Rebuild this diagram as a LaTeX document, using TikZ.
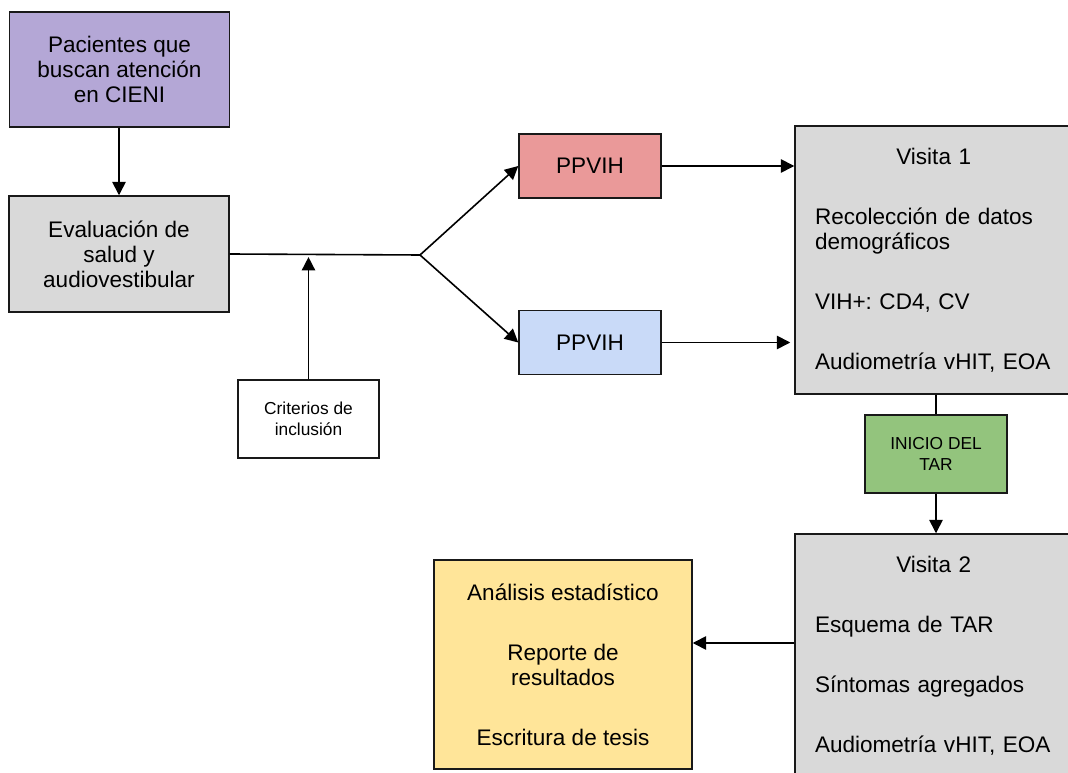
\documentclass[tikz,border=0pt]{standalone}
\usepackage{fontspec}
\setmainfont{Liberation Sans}
\frenchspacing
\usetikzlibrary{arrows.meta,positioning}
\definecolor{lila}{HTML}{B4A7D6}
\definecolor{gris}{HTML}{D9D9D9}
\definecolor{rosa}{HTML}{EA9999}
\definecolor{celeste}{HTML}{C9DAF8}
\definecolor{verde}{HTML}{93C47D}
\definecolor{amarillo}{HTML}{FFE599}
\tikzset{
  caja/.style={draw=black!90,line width=1.1pt,inner sep=0pt,align=center,
    font=\fontsize{16.9}{18.75}\selectfont},
  chica/.style={caja,fill=white,font=\fontsize{13}{16}\selectfont},
  visita/.style={caja,fill=gris,align=left,inner xsep=15pt,text width=187.5pt},
  flecha/.style={line width=1.2pt,-{Triangle[length=10pt,width=10pt]}},
  linea/.style={line width=1.2pt},
}

\begin{document}
\begin{tikzpicture}[x=0.75pt,y=-0.75pt]
  \useasboundingbox (0,0) rectangle (1068,773);
  \clip (0,0) rectangle (1068,773);
  % columna izquierda
  \node[caja,fill=lila,minimum width=165pt,minimum height=86.25pt] (pac) at (119.5,69.5)
    {Pacientes que\\buscan atención\\en CIENI};
  \node[caja,fill=gris,minimum width=165pt,minimum height=87pt] (eval) at (119,254)
    {Evaluación de\\salud y\\audiovestibular};
  \node[chica,minimum width=105.75pt,minimum height=58.5pt] (crit) at (308.5,419)
    {Criterios de\\inclusión};
  \coordinate (rama) at (420,255);
  % grupos
  \node[caja,fill=rosa,minimum width=106.5pt,minimum height=48pt] (rojo) at (590,166) {PPVIH};
  \node[caja,fill=celeste,minimum width=106.5pt,minimum height=48pt] (azul) at (590,342.5) {PPVIH};
  % visitas
  \node[visita,minimum height=201pt] (v1) at (940,260)
    {\hspace*{61pt}Visita 1\\[26.25pt]
     Recolección de datos\\demográficos\\[26.25pt]
     VIH+: CD4, CV\\[26.25pt]
     Audiometría vHIT, EOA};
  \node[chica,fill=verde,minimum width=106.5pt,minimum height=58.5pt] (inicio) at (936,454)
    {INICIO DEL\\TAR};
  \node[visita,minimum height=183pt] (v2) at (940,656)
    {\hspace*{61pt}Visita 2\\[26.25pt]
     Esquema de TAR\\[26.25pt]
     Síntomas agregados\\[26.25pt]
     Audiometría vHIT, EOA};
  \node[caja,fill=amarillo,minimum width=193.5pt,minimum height=156.75pt] (final) at (563,664.5)
    {Análisis estadístico\\[26.25pt]
     Reporte de\\resultados\\[26.25pt]
     Escritura de tesis};
  % conectores
  \draw[flecha] (eval.north |- pac.south) -- (eval.north);
  \draw[linea] (eval.east) -- (rama);
  \path (eval.east) -- (rama) coordinate[pos=0.41] (union);
  \draw[flecha,shorten >=2pt] (crit.north) -- (crit.north |- union);
  \draw[flecha] (rama) -- (rojo.west);
  \draw[flecha] (rama) -- (azul.west);
  \draw[flecha] (rojo.east) -- (rojo.east -| v1.west);
  \draw[flecha,shorten >=3pt] (azul.east) -- (azul.east -| v1.west);
  \draw[linea] (inicio.north |- v1.south) -- (inicio.north);
  \draw[flecha] (inicio.south) -- (inicio.south |- v2.north);
  \draw[flecha] (v2.west |- 0,643) -- (final.east |- 0,643);
\end{tikzpicture}
\end{document}
